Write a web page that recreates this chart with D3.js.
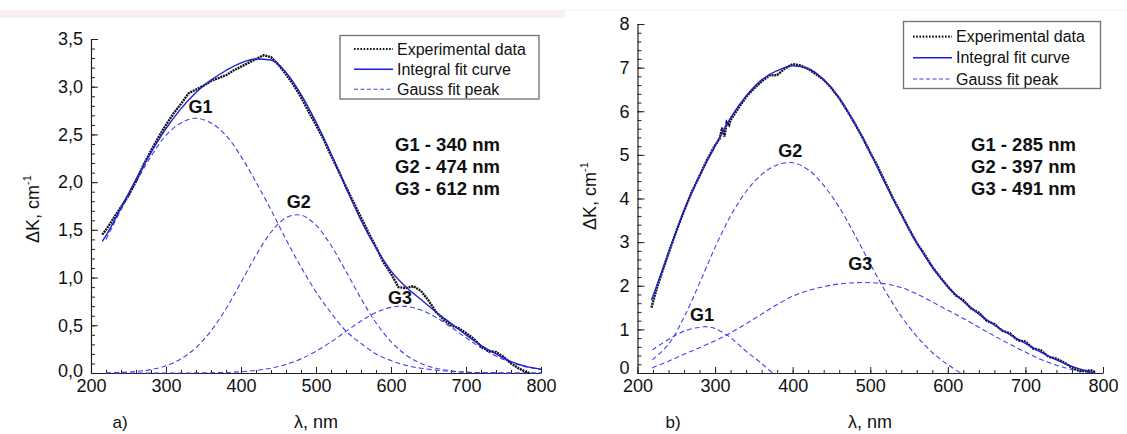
<!DOCTYPE html>
<html>
<head>
<meta charset="utf-8">
<script src="https://cdn.jsdelivr.net/npm/d3@7/dist/d3.min.js"></script>
<style>
	body { margin: 0; background: #fff; }
	svg { display: block; font-family: Arial, "Liberation Sans", sans-serif; }
</style>
</head>
<body>
<div id="chart"></div>
<script>
// ---- panel a) ----
const gridA = [220, 240, 260, 280, 300, 320, 340, 360, 380, 400, 420, 440, 460, 480, 500,
	520, 540, 560, 580, 600, 620, 640, 660, 680, 700, 720, 740, 760, 780, 800];
const fitXA = [215, 220, 240, 260, 280, 300, 320, 340, 360, 380, 400, 420, 440, 460, 480, 500,
	520, 540, 560, 580, 600, 620, 640, 660, 680, 700, 720, 740, 760, 780, 800];
const fitYA = [1.38, 1.44, 1.73, 2.03, 2.31, 2.56, 2.77, 2.94, 3.07, 3.17, 3.25, 3.29, 3.28, 3.15, 2.92, 2.63,
	2.30, 1.94, 1.60, 1.31, 1.07, 0.90, 0.77, 0.64, 0.52, 0.40, 0.29, 0.20, 0.12, 0.07, 0.04];
const g1A = [1.40, 1.71, 2.00, 2.27, 2.49, 2.62, 2.67, 2.62, 2.49, 2.27, 2.00, 1.71, 1.40, 1.11, 0.85,
	0.63, 0.44, 0.31, 0.20, 0.13, 0.08, 0.05, 0.03, 0.015, 0.008, 0.004, 0.002, 0.001, 0, 0];
const g2A = [0.002, 0.006, 0.016, 0.036, 0.076, 0.148, 0.266, 0.441, 0.674, 0.949, 1.233, 1.475, 1.627, 1.654, 1.549,
	1.338, 1.064, 0.781, 0.527, 0.329, 0.189, 0.100, 0.049, 0.022, 0.009, 0.003, 0.001, 0, 0, 0];
const g3A = [0, 0, 0, 0, 0, 0, 0.001, 0.003, 0.006, 0.013, 0.027, 0.051, 0.090, 0.148, 0.227,
	0.326, 0.436, 0.544, 0.633, 0.688, 0.698, 0.660, 0.583, 0.480, 0.369, 0.265, 0.177, 0.111, 0.064, 0.035];
const expXA = [215, 220, 230, 240, 250, 260, 270, 280, 290, 300, 310, 320, 330, 340, 350, 360, 370, 380, 390, 400,
	410, 420, 430, 440, 450, 460, 470, 480, 490, 500, 510, 520, 530, 540, 550, 560, 570, 580, 590, 600,
	610, 620, 630, 640, 650, 660, 670, 680, 690, 700, 710, 720, 730, 740, 750, 760, 770, 780, 785];
const expYA = [1.45, 1.50, 1.62, 1.74, 1.86, 2.01, 2.18, 2.33, 2.47, 2.60, 2.72, 2.82, 2.93, 2.97, 3.01, 3.06, 3.09, 3.12, 3.17, 3.21,
	3.25, 3.29, 3.33, 3.31, 3.23, 3.13, 3.02, 2.89, 2.74, 2.60, 2.45, 2.28, 2.12, 1.95, 1.79, 1.63, 1.47, 1.32, 1.16, 1.04,
	0.90, 0.89, 0.91, 0.86, 0.76, 0.64, 0.56, 0.50, 0.47, 0.42, 0.36, 0.28, 0.23, 0.22, 0.17, 0.10, 0.05, 0.01, 0.00];
const peakNamesA = ['G1 - 340 nm', 'G2 - 474 nm', 'G3 - 612 nm'];
const peakLabelsA = [
	{name: 'G1', x: 346, y: 2.79},
	{name: 'G2', x: 477, y: 1.80},
	{name: 'G3', x: 612, y: 0.79}
];

// ---- panel b) ----
const fitXB = [218, 240, 260, 280, 300, 320, 340, 360, 380, 400, 420, 440, 460, 480, 500,
	520, 540, 560, 580, 600, 620, 640, 660, 680, 700, 720, 740, 760, 780, 790];
const fitYB = [1.67, 2.75, 3.72, 4.52, 5.20, 5.85, 6.35, 6.72, 6.93, 7.04, 6.98, 6.72, 6.30, 5.72, 5.05,
	4.32, 3.63, 2.98, 2.43, 1.98, 1.64, 1.35, 1.10, 0.88, 0.68, 0.48, 0.30, 0.15, 0.04, 0.0];
const g1XB = [219, 240, 260, 280, 290, 300, 320, 340, 360, 374];
const g1YB = [0.53, 0.77, 0.96, 1.05, 1.06, 1.02, 0.81, 0.50, 0.22, 0.0];
const g2XB = [219, 240, 260, 280, 300, 320, 340, 360, 380, 400, 420, 440, 460, 480, 500, 520, 540, 560, 580, 600, 617];
const g2YB = [0.30, 0.66, 1.28, 2.06, 2.88, 3.60, 4.16, 4.55, 4.77, 4.82, 4.66, 4.30, 3.80, 3.17, 2.50, 1.86, 1.30, 0.84, 0.47, 0.19, 0.0];
const g3XB = [219, 240, 260, 280, 300, 320, 340, 360, 380, 400, 420, 440, 460, 480, 500,
	520, 540, 560, 580, 600, 620, 640, 660, 680, 700, 720, 740, 760, 780, 790];
const g3YB = [0.12, 0.27, 0.43, 0.58, 0.74, 0.92, 1.13, 1.35, 1.57, 1.76, 1.89, 1.98, 2.04, 2.07, 2.07,
	2.04, 1.96, 1.81, 1.63, 1.44, 1.25, 1.05, 0.85, 0.66, 0.48, 0.31, 0.18, 0.08, 0.02, 0.0];
const expXB = [218, 225, 230, 240, 250, 260, 270, 280, 290, 300, 306, 309, 312, 315, 318, 320, 330, 340, 350, 360,
	370, 380, 390, 400, 410, 420, 430, 440, 450, 460, 470, 480, 490, 500, 510, 520, 530, 540, 550, 560,
	570, 580, 590, 600, 610, 620, 630, 640, 650, 660, 670, 680, 690, 700, 710, 720, 730, 740, 750, 760,
	770, 780, 785, 790];
const expYB = [1.50, 1.95, 2.22, 2.75, 3.25, 3.72, 4.15, 4.52, 4.90, 5.22, 5.38, 5.62, 5.42, 5.75, 5.68, 5.80, 6.07, 6.33, 6.52, 6.68,
	6.82, 6.83, 6.98, 7.08, 7.05, 6.97, 6.85, 6.72, 6.53, 6.30, 6.02, 5.72, 5.40, 5.05, 4.72, 4.35, 3.98, 3.65, 3.30, 2.98,
	2.72, 2.43, 2.20, 1.98, 1.78, 1.67, 1.48, 1.38, 1.20, 1.12, 0.97, 0.91, 0.75, 0.72, 0.56, 0.52, 0.37, 0.33, 0.24, 0.12,
	0.04, 0.05, 0.06, 0.02];
const peakNamesB = ['G1 - 285 nm', 'G2 - 397 nm', 'G3 - 491 nm'];
const peakLabelsB = [
	{name: 'G1', x: 283, y: 1.33},
	{name: 'G2', x: 397, y: 5.11},
	{name: 'G3', x: 487, y: 2.52}
];

const xMajor = [200, 300, 400, 500, 600, 700, 800];
const legendItems = ['Experimental data', 'Integral fit curve', 'Gauss fit peak'];

const expColor = '#111',
	fitColor = '#1e1ed8',
	gaussColor = '#4040ee',
	axisColor = '#222';

const width = 1127,
	height = 434;

const svg = d3.select('#chart')
	.append('svg')
	.attr('width', width)
	.attr('height', height);

// faint strip at the very top of the scan
svg.append('rect')
	.attr('x', 0).attr('y', 10)
	.attr('width', 565).attr('height', 8)
	.attr('fill', '#f7f1f1');
svg.append('line')
	.attr('x1', 565).attr('x2', width)
	.attr('y1', 10.5).attr('y2', 10.5)
	.attr('stroke', '#f3f3f3');

const zip = (xs, ys) => xs.map((v, i) => [v, ys[i]]);

function drawPanel(p){
	const g = svg.append('g');

	const x = d3.scaleLinear().domain([200, 800]).range(p.xRange);
	const y = d3.scaleLinear().domain([0, p.yMax]).range(p.yRange);

	const line = d3.line()
		.x(d => x(d[0]))
		.y(d => y(d[1]));

	// minor ticks first, then major axis on top
	g.append('g')
		.attr('transform', `translate(0,${p.yRange[0]})`)
		.call(d3.axisBottom(x).tickValues(d3.range(200, 801, 20)).tickSize(-3).tickSizeOuter(0).tickFormat(''))
		.call(a => a.select('.domain').remove());
	g.append('g')
		.attr('transform', `translate(${p.xRange[0]},0)`)
		.call(d3.axisLeft(y).tickValues(p.yMinor).tickSize(-4).tickSizeOuter(0).tickFormat(''))
		.call(a => a.select('.domain').remove());

	const xAxis = g.append('g')
		.attr('transform', `translate(0,${p.yRange[0]})`)
		.call(d3.axisBottom(x).tickValues(xMajor).tickSize(-6).tickSizeOuter(0).tickPadding(6));
	const yAxis = g.append('g')
		.attr('transform', `translate(${p.xRange[0]},0)`)
		.call(d3.axisLeft(y).tickValues(p.yMajor).tickSize(-7).tickSizeOuter(0).tickPadding(8).tickFormat(p.fmt));

	g.selectAll('.tick line').attr('stroke', axisColor);
	[xAxis, yAxis].forEach(a => {
		a.select('.domain').attr('stroke', axisColor).attr('stroke-width', 1.2);
		a.selectAll('text').attr('font-size', 18).attr('fill', '#111').attr('font-family', 'Arial, Liberation Sans, sans-serif');
	});
	// lowest y label sits a touch higher so it clears the x labels
	yAxis.selectAll('.tick text').filter(d => d === 0).attr('dy', p.zeroDy);

	// curves
	p.gauss.forEach(s => {
		g.append('path')
			.datum(s)
			.attr('d', line.curve(d3.curveCatmullRom.alpha(0.5)))
			.attr('fill', 'none')
			.attr('stroke', gaussColor)
			.attr('stroke-width', 1.1)
			.attr('stroke-dasharray', '5,3');
	});

	g.append('path')
		.datum(p.exp)
		.attr('d', line.curve(d3.curveLinear))
		.attr('fill', 'none')
		.attr('stroke', expColor)
		.attr('stroke-width', 2.4)
		.attr('stroke-dasharray', '2,0.8');

	g.append('path')
		.datum(p.fit)
		.attr('d', line.curve(d3.curveMonotoneX))
		.attr('fill', 'none')
		.attr('stroke', fitColor)
		.attr('stroke-width', 1.4);

	// peak labels
	g.selectAll('.peak-label')
		.data(p.peaks)
		.enter()
		.append('text')
		.attr('x', d => x(d.x))
		.attr('y', d => y(d.y))
		.attr('dy', '0.36em')
		.attr('text-anchor', 'middle')
		.attr('font-size', 18)
		.attr('font-weight', 'bold')
		.attr('fill', '#111')
		.text(d => d.name);

	// peak positions list
	g.selectAll('.peak-name')
		.data(p.names)
		.enter()
		.append('text')
		.attr('x', p.namesAt[0])
		.attr('y', (d, i) => p.namesAt[1] + i * 22)
		.attr('font-size', 18.5)
		.attr('font-weight', 'bold')
		.attr('fill', '#111')
		.text(d => d);

	// legend
	const lg = p.legend;
	g.append('rect')
		.attr('x', lg.x).attr('y', lg.y)
		.attr('width', lg.w).attr('height', lg.h)
		.attr('fill', '#fff')
		.attr('stroke', '#777')
		.attr('stroke-width', 1.4);
	const styles = [
		{c: expColor, w: 2.2, dash: '1.6,1.6'},
		{c: fitColor, w: 1.5, dash: null},
		{c: gaussColor, w: 1.1, dash: '4,2.5'}
	];
	legendItems.forEach((t, i) => {
		const cy = lg.rows[i];
		g.append('line')
			.attr('x1', lg.sx0).attr('x2', lg.sx1)
			.attr('y1', cy).attr('y2', cy)
			.attr('stroke', styles[i].c)
			.attr('stroke-width', styles[i].w)
			.attr('stroke-dasharray', styles[i].dash);
		g.append('text')
			.attr('x', lg.tx)
			.attr('y', cy)
			.attr('dy', '0.36em')
			.attr('font-size', 16)
			.attr('fill', '#111')
			.text(t);
	});

	// axis titles
	g.append('text')
		.attr('x', p.xTitleX)
		.attr('y', 428)
		.attr('text-anchor', 'middle')
		.attr('font-size', 18)
		.attr('fill', '#111')
		.text('λ, nm');
	g.append('text')
		.attr('x', p.tagX)
		.attr('y', 428)
		.attr('text-anchor', 'middle')
		.attr('font-size', 17)
		.attr('fill', '#111')
		.text(p.tag);

	const yt = g.append('text')
		.attr('transform', `translate(${p.yTitle[0]},${p.yTitle[1]}) rotate(-90)`)
		.attr('text-anchor', 'middle')
		.attr('font-size', 18)
		.attr('fill', '#111');
	yt.append('tspan').text('ΔK, cm');
	yt.append('tspan').attr('font-size', 11).attr('dy', -8).text('-1');
}

drawPanel({
	xRange: [91, 541],
	yRange: [373, 39],
	yMax: 3.5,
	yMajor: [0, 0.5, 1, 1.5, 2, 2.5, 3, 3.5],
	yMinor: d3.range(0, 3.51, 0.1),
	fmt: d => d3.format('.1f')(d).replace('.', ','),
	zeroDy: '0.2em',
	fit: zip(fitXA, fitYA),
	gauss: [zip(gridA, g1A), zip(gridA, g2A), zip(gridA, g3A)],
	exp: zip(expXA, expYA),
	peaks: peakLabelsA,
	names: peakNamesA,
	namesAt: [395, 150.5],
	legend: {x: 340, y: 35.5, w: 199, h: 63.5, rows: [49, 69.3, 89.3], sx0: 354, sx1: 393, tx: 397},
	xTitleX: 316,
	tag: 'a)',
	tagX: 120,
	yTitle: [39, 209]
});

drawPanel({
	xRange: [637.5, 1103],
	yRange: [373, 24],
	yMax: 8,
	yMajor: [0, 1, 2, 3, 4, 5, 6, 7, 8],
	yMinor: d3.range(0, 8.01, 0.2),
	fmt: d3.format('d'),
	zeroDy: '0.05em',
	fit: zip(fitXB, fitYB),
	gauss: [zip(g1XB, g1YB), zip(g2XB, g2YB), zip(g3XB, g3YB)],
	exp: zip(expXB, expYB),
	peaks: peakLabelsB,
	names: peakNamesB,
	namesAt: [971, 150.5],
	legend: {x: 903.5, y: 21.5, w: 197, h: 67, rows: [36.7, 57.7, 79], sx0: 913, sx1: 952, tx: 956},
	xTitleX: 870,
	tag: 'b)',
	tagX: 673,
	yTitle: [596, 196]
});
</script>
</body>
</html>
